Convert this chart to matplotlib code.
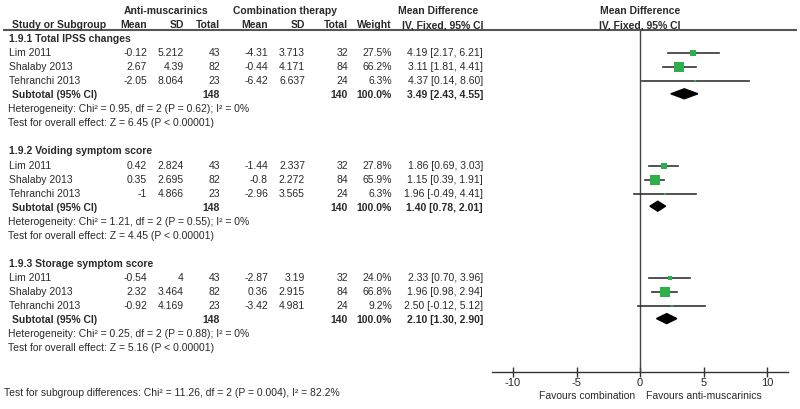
import matplotlib
matplotlib.use("Agg")
import matplotlib.pyplot as plt
from matplotlib.patches import Polygon

plt.rcParams['font.family'] = ['Liberation Sans', 'DejaVu Sans']

# ---------------- data ----------------
group_titles = ["1.9.1 Total IPSS changes", "1.9.2 Voiding symptom score", "1.9.3 Storage symptom score"]
studies = ["Lim 2011", "Shalaby 2013", "Tehranchi 2013"]
anti_mean = [[-0.12, 2.67, -2.05], [0.42, 0.35, -1], [-0.54, 2.32, -0.92]]
anti_sd = [[5.212, 4.39, 8.064], [2.824, 2.695, 4.866], [4, 3.464, 4.169]]
anti_n = [43, 82, 23]
comb_mean = [[-4.31, -0.44, -6.42], [-1.44, -0.8, -2.96], [-2.87, 0.36, -3.42]]
comb_sd = [[3.713, 4.171, 6.637], [2.337, 2.272, 3.565], [3.19, 2.915, 4.981]]
comb_n = [32, 84, 24]
weights = [[27.5, 66.2, 6.3], [27.8, 65.9, 6.3], [24.0, 66.8, 9.2]]
md = [[4.19, 3.11, 4.37], [1.86, 1.15, 1.96], [2.33, 1.96, 2.50]]
md_lo = [[2.17, 1.81, 0.14], [0.69, 0.39, -0.49], [0.70, 0.98, -0.12]]
md_hi = [[6.21, 4.41, 8.60], [3.03, 1.91, 4.41], [3.96, 2.94, 5.12]]
sub_anti_n = [148, 148, 148]
sub_comb_n = [140, 140, 140]
sub_md = [3.49, 1.40, 2.10]
sub_lo = [2.43, 0.78, 1.30]
sub_hi = [4.55, 2.01, 2.90]
heterogeneity = ["Heterogeneity: Chi² = 0.95, df = 2 (P = 0.62); I² = 0%",
                 "Heterogeneity: Chi² = 1.21, df = 2 (P = 0.55); I² = 0%",
                 "Heterogeneity: Chi² = 0.25, df = 2 (P = 0.88); I² = 0%"]
overall = ["Test for overall effect: Z = 6.45 (P < 0.00001)",
           "Test for overall effect: Z = 4.45 (P < 0.00001)",
           "Test for overall effect: Z = 5.16 (P < 0.00001)"]
subgroup_test = "Test for subgroup differences: Chi² = 11.26, df = 2 (P = 0.004), I² = 82.2%"
x_ticks = [-10, -5, 0, 5, 10]
favours_left = "Favours combination"
favours_right = "Favours anti-muscarinics"

# ---------------- layout ----------------
W, H = 800, 409
TXT = '#2a2a2a'
GREEN = '#2DB04A'
FS = 7.5

def row_y(r):
    return 11 + 14.05 * r

fig = plt.figure(figsize=(W / 100, H / 100), dpi=100)
ax = fig.add_axes([0, 0, 1, 1])
ax.set_xlim(0, W)
ax.set_ylim(H, 0)
ax.axis('off')

def t(x, y, s, ha='left', bold=False):
    ax.text(x, y, s, ha=ha, va='center', fontsize=FS, color=TXT,
            fontweight='bold' if bold else 'normal')

# headers
t(166, row_y(0), "Anti-muscarinics", 'center', True)
t(285, row_y(0), "Combination therapy", 'center', True)
t(438, row_y(0), "Mean Difference", 'center', True)
t(640, row_y(0), "Mean Difference", 'center', True)
t(12, row_y(1), "Study or Subgroup", 'left', True)
for x, s in [(147, "Mean"), (184, "SD"), (220, "Total"), (268, "Mean"),
             (305, "SD"), (348, "Total"), (392, "Weight")]:
    t(x, row_y(1), s, 'right', True)
t(443, row_y(1), "IV, Fixed, 95% CI", 'center', True)
t(640, row_y(1), "IV, Fixed, 95% CI", 'center', True)
ax.plot([3, 797], [29.5, 29.5], color='#555555', lw=1.5, solid_capstyle='butt')

# forest axes
x0_px, x1_px, zero_px, scale = 492, 788, 640, 12.7
ax2 = fig.add_axes([x0_px / W, (H - 372) / H, (x1_px - x0_px) / W, (372 - 29.5) / H])
ax2.set_xlim((x0_px - zero_px) / scale, (x1_px - zero_px) / scale)
ax2.set_ylim(372, 29.5)
ax2.patch.set_alpha(0)
for s in ['left', 'top', 'right']:
    ax2.spines[s].set_visible(False)
ax2.spines['bottom'].set_color('#333333')
ax2.spines['bottom'].set_linewidth(1.0)
ax2.set_yticks([])
ax2.set_xticks(x_ticks)
ax2.set_xticklabels([f"{v:g}" for v in x_ticks])
ax2.tick_params(axis='x', direction='inout', length=7, width=1, colors='#333333',
                labelsize=8, labelcolor=TXT, pad=1)
ax2.axvline(0, color='#444444', lw=1.0)

for g in range(3):
    base = 2 + 8 * g
    t(9, row_y(base), group_titles[g], bold=True)
    for i in range(3):
        y = row_y(base + 1 + i)
        t(9, y, studies[i])
        t(147, y, f"{anti_mean[g][i]:g}", 'right')
        t(184, y, f"{anti_sd[g][i]:g}", 'right')
        t(220, y, f"{anti_n[i]}", 'right')
        t(268, y, f"{comb_mean[g][i]:g}", 'right')
        t(305, y, f"{comb_sd[g][i]:g}", 'right')
        t(348, y, f"{comb_n[i]}", 'right')
        t(392, y, f"{weights[g][i]:.1f}%", 'right')
        t(483, y, f"{md[g][i]:.2f} [{md_lo[g][i]:.2f}, {md_hi[g][i]:.2f}]", 'right')
        ax2.plot([md_lo[g][i], md_hi[g][i]], [y, y], color='#333333', lw=1.2, zorder=2)
        side_px = 1.5 + 0.14 * weights[g][i]
        ax2.plot([md[g][i]], [y], marker='s', ms=side_px * 0.72, color=GREEN,
                 mec=GREEN, mew=0, zorder=3)
    ys = row_y(base + 4)
    t(12, ys, "Subtotal (95% CI)", bold=True)
    t(220, ys, f"{sub_anti_n[g]}", 'right', True)
    t(348, ys, f"{sub_comb_n[g]}", 'right', True)
    t(392, ys, "100.0%", 'right', True)
    t(483, ys, f"{sub_md[g]:.2f} [{sub_lo[g]:.2f}, {sub_hi[g]:.2f}]", 'right', True)
    dy = 5
    yd = ys - 1.5
    ax2.add_patch(Polygon([[sub_lo[g], yd], [sub_md[g], yd - dy], [sub_hi[g], yd],
                           [sub_md[g], yd + dy]], closed=True, color='black', zorder=3))
    t(8, row_y(base + 5), heterogeneity[g])
    t(8, row_y(base + 6), overall[g])

t(4, 393, subgroup_test)
t(635, 396, favours_left, 'right')
t(646, 396, favours_right, 'left')

fig.savefig("out.png", dpi=100)
